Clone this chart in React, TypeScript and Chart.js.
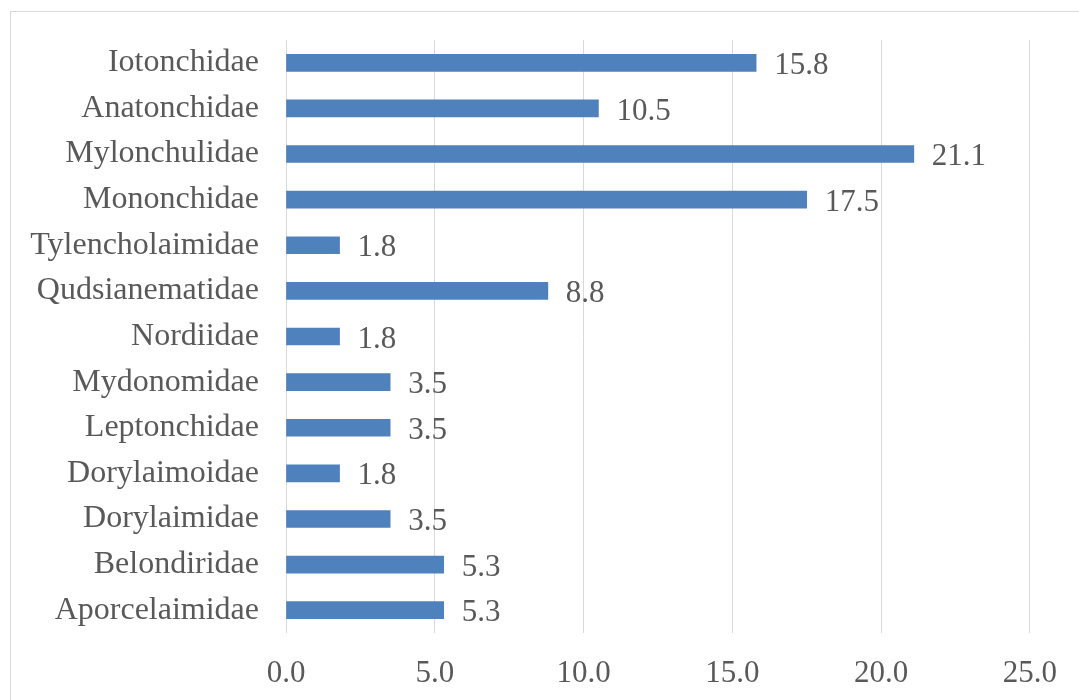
import React, { useEffect, useRef } from "react";
import { Chart, registerables } from "chart.js";

Chart.register(...registerables);

const categories = [
  "Iotonchidae",
  "Anatonchidae",
  "Mylonchulidae",
  "Mononchidae",
  "Tylencholaimidae",
  "Qudsianematidae",
  "Nordiidae",
  "Mydonomidae",
  "Leptonchidae",
  "Dorylaimoidae",
  "Dorylaimidae",
  "Belondiridae",
  "Aporcelaimidae",
];

const values = [15.8, 10.5, 21.1, 17.5, 1.8, 8.8, 1.8, 3.5, 3.5, 1.8, 3.5, 5.3, 5.3];

const xMin = 0;
const xMax = 25;
const xStep = 5;

const FONT = "'Liberation Serif', 'Times New Roman', serif";
const TEXT = "#595959";

const frame = {
  id: "frame",
  beforeDraw(chart: any) {
    const { ctx } = chart;
    ctx.save();
    ctx.fillStyle = "#ffffff";
    ctx.fillRect(0, 0, chart.width, chart.height);
    ctx.strokeStyle = "#d9d9d9";
    ctx.lineWidth = 1;
    ctx.strokeRect(10.5, 11.5, 1200, 800);
    ctx.restore();
  },
};

const valueLabels = {
  id: "valueLabels",
  afterDatasetsDraw(chart: any) {
    const { ctx } = chart;
    const meta = chart.getDatasetMeta(0);
    ctx.save();
    ctx.font = `31px ${FONT}`;
    ctx.fillStyle = TEXT;
    ctx.textAlign = "left";
    ctx.textBaseline = "middle";
    meta.data.forEach((bar: any, i: number) => {
      ctx.fillText(values[i].toFixed(1), bar.x + 18, bar.y + 3);
    });
    ctx.restore();
  },
};

export default function App() {
  const ref = useRef<HTMLCanvasElement>(null);

  useEffect(() => {
    if (!ref.current) return;
    const chart = new Chart(ref.current, {
      type: "bar",
      data: {
        labels: categories,
        datasets: [
          {
            data: values,
            backgroundColor: "#4F81BD",
            borderWidth: 0,
            barThickness: 17,
          },
        ],
      },
      options: {
        indexAxis: "y",
        animation: false,
        responsive: false,
        maintainAspectRatio: false,
        layout: { padding: { left: 0, right: 46, top: 40, bottom: 0 } },
        plugins: {
          legend: { display: false },
          tooltip: { enabled: false },
        },
        scales: {
          x: {
            min: xMin,
            max: xMax,
            border: { display: false },
            grid: { color: "#d9d9d9", lineWidth: 1, drawTicks: false },
            ticks: {
              stepSize: xStep,
              padding: 22,
              color: TEXT,
              font: { family: FONT, size: 31 },
              callback: (v: any) => Number(v).toFixed(1),
            },
            afterFit: (scale: any) => {
              scale.height = 67;
            },
          },
          y: {
            border: { display: false },
            grid: { display: false, drawTicks: false },
            ticks: {
              padding: 27,
              color: TEXT,
              font: { family: FONT, size: 32 },
              autoSkip: false,
            },
            afterFit: (scale: any) => {
              scale.width = 286;
              scale.paddingTop = 0;
              scale.paddingBottom = 0;
            },
          },
        },
      },
      plugins: [frame, valueLabels],
    });
    return () => chart.destroy();
  }, []);

  return (
    <div style={{ position: "fixed", left: 0, top: 0, width: 1079, height: 700 }}>
      <canvas ref={ref} width={1079} height={700} style={{ display: "block", width: 1079, height: 700 }} />
    </div>
  );
}
